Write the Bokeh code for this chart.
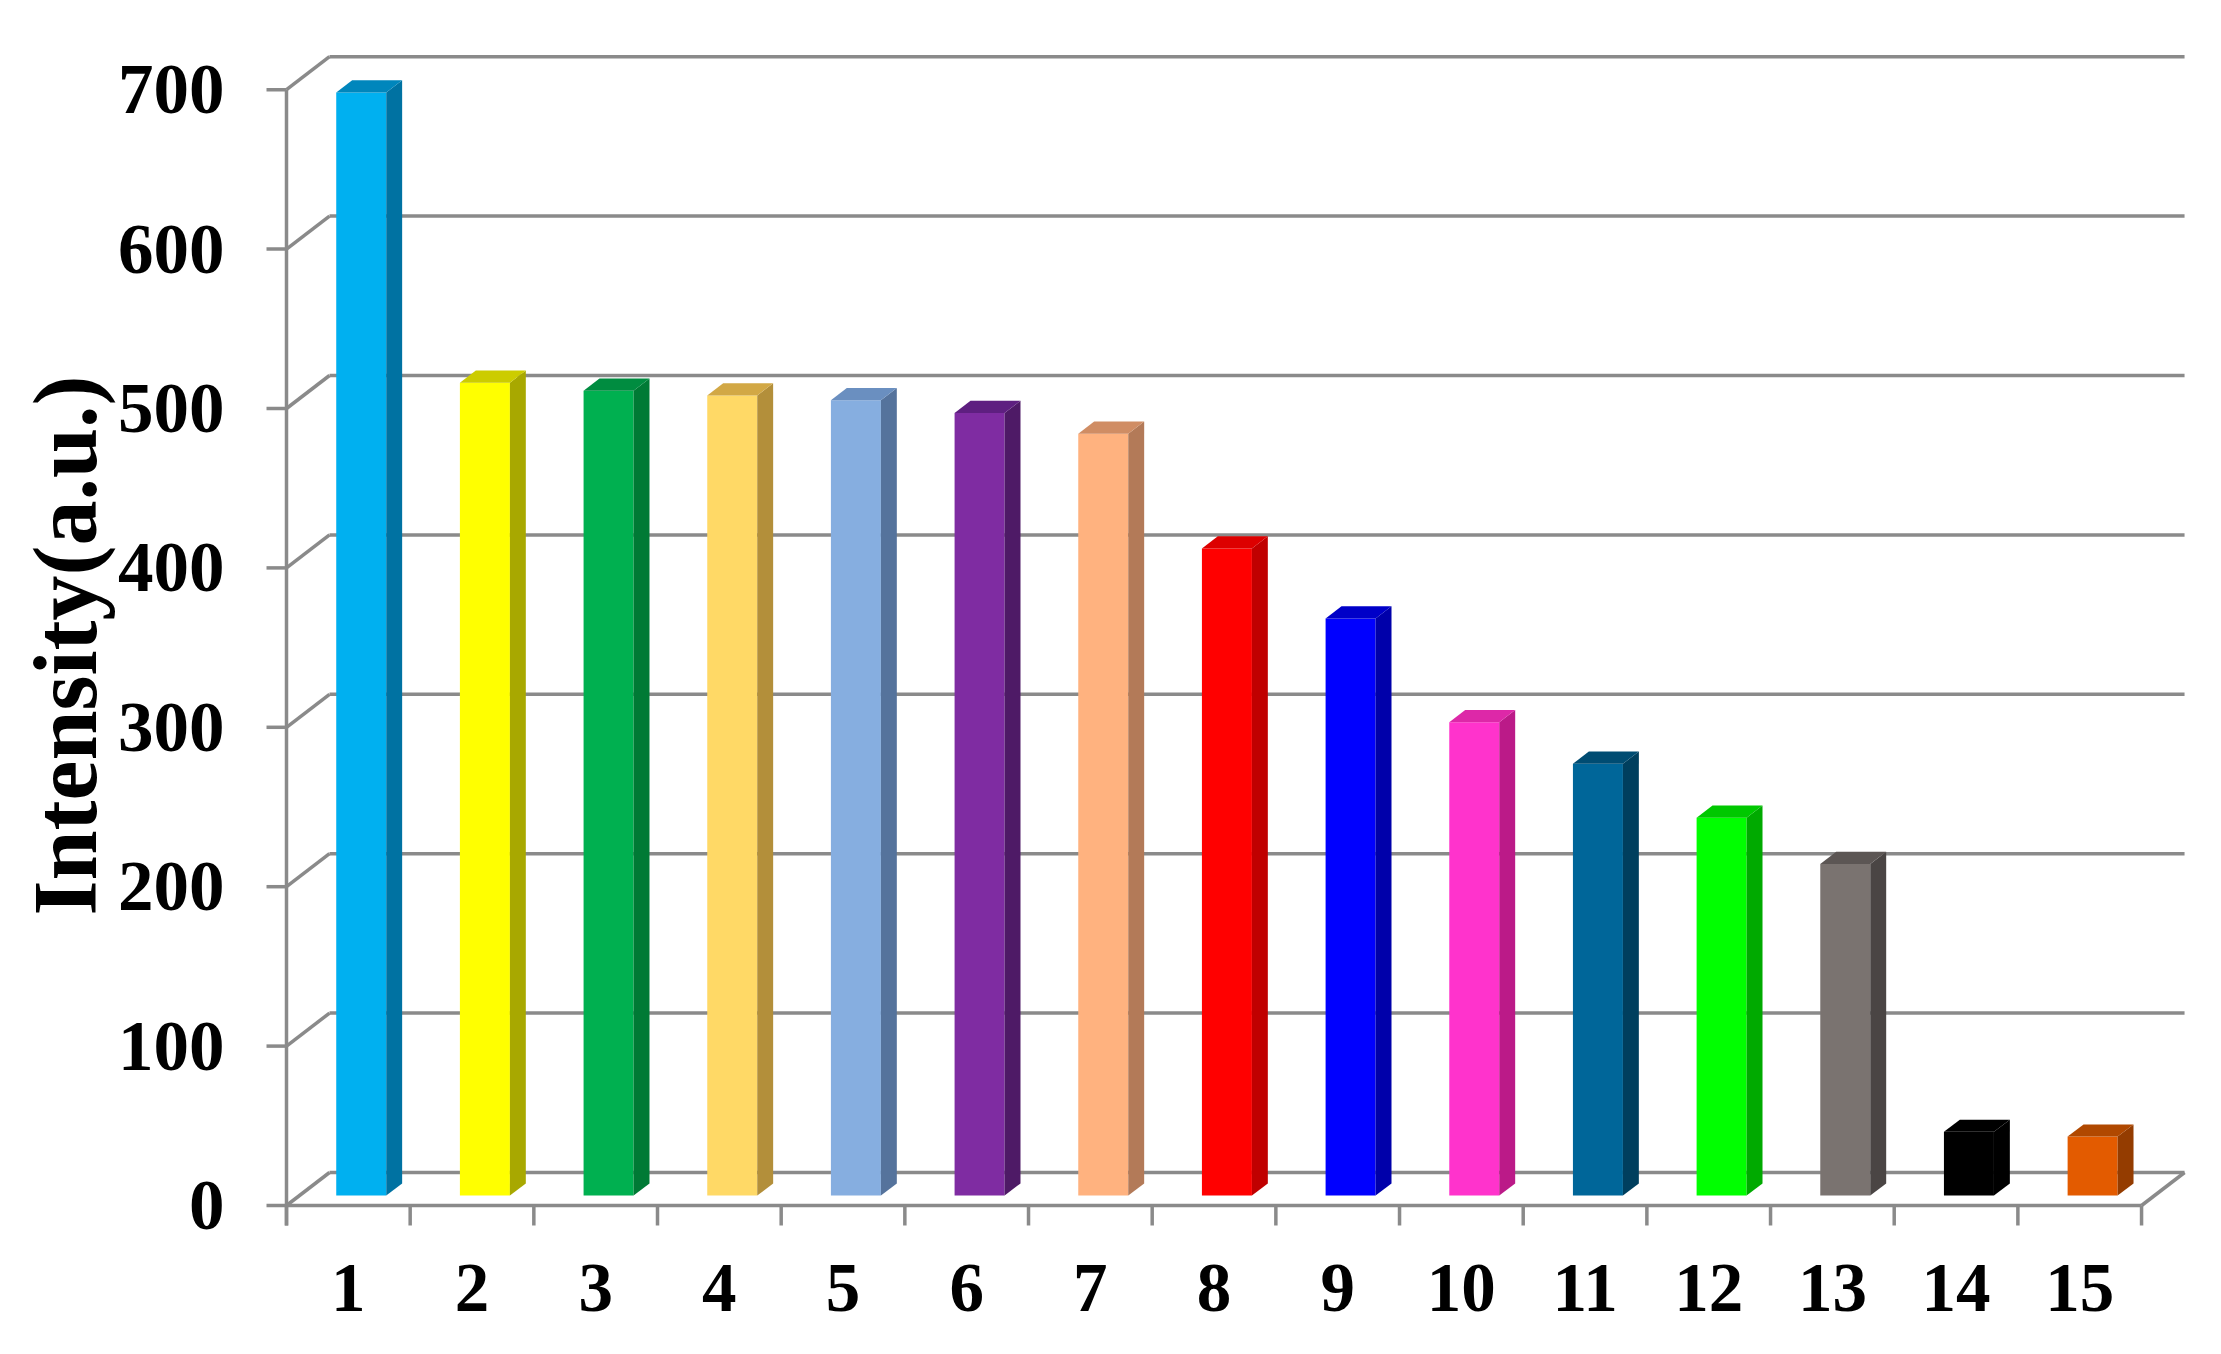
import math
from bokeh.plotting import figure
from bokeh.models import Range1d
from bokeh.core.properties import value
from bokeh.embed import file_html
from bokeh.resources import INLINE

# ---------------- data ----------------
categories = [str(i) for i in range(1, 16)]
intensity = [692, 510, 505, 502, 499, 491, 478, 406, 362, 297, 271, 237, 208, 40, 37]
y_ticks = [0, 100, 200, 300, 400, 500, 600, 700]
y_tick_labels = [str(t) for t in y_ticks]
y_title = "Intensity(a.u.)"

front_colors = ["#00B0F0", "#FFFF00", "#00B050", "#FFD966", "#86AEE0", "#7F2CA2", "#FFB27F", "#FF0000",
                "#0000FF", "#FF33CC", "#006699", "#00FF00", "#7A7370", "#000000", "#E35B00"]
side_colors = ["#0072A2", "#A8A800", "#007A35", "#B38F3A", "#55739C", "#4E1A66", "#B37A58", "#C00000",
               "#0000AA", "#BB1A88", "#003F5E", "#00AA00", "#4A4544", "#000000", "#943C00"]
top_colors = ["#0086BC", "#CCCC00", "#008C40", "#D2A845", "#6A8FC0", "#5E1F80", "#D08D64", "#DD0000",
              "#0000C8", "#DD28A8", "#004C72", "#00C800", "#5C5654", "#000000", "#B04800"]

# ---------------- layout constants (screenshot pixels) ----------------
W, H = 2205, 1338
FIG_ORIGIN = 0        # screenshot position of the figure's top-left corner
AXIS_X = 286          # x of front value axis
ZERO_Y = 1205         # y of front zero line
SLOT_PX = 123.67      # width of one category slot
PX_PER_UNIT = 1.594   # pixels per intensity unit
DEPTH_DX_PX, DEPTH_DY_PX = 43, 33
BAR_W_PX = 50
BAR_FRONT = 0.30      # depth fraction where bar front sits
BAR_DEPTH = 0.37      # bar depth as fraction of full depth
GRID_COLOR = "#8A8A8A"
FONT = "Liberation Serif"


def ux(px):
    return px / SLOT_PX


def uy(px):
    return px / PX_PER_UNIT


x_start = ux(FIG_ORIGIN - AXIS_X)
x_end = ux(FIG_ORIGIN + W - AXIS_X)
y_end = uy(ZERO_Y - FIG_ORIGIN)
y_start = uy(ZERO_Y - FIG_ORIGIN - H)

ddx, ddy = ux(DEPTH_DX_PX), uy(DEPTH_DY_PX)
n = len(categories)
ymax = y_ticks[-1]

p = figure(width=W, height=H, x_range=Range1d(x_start, x_end), y_range=Range1d(y_start, y_end),
           output_backend="svg", toolbar_location=None, min_border=0,
           x_axis_location=None, y_axis_location=None)
p.outline_line_color = None
p.grid.visible = False
p.background_fill_color = "white"
p.border_fill_color = "white"

LW = 3.5
# back wall gridlines
p.segment(x0=[ddx] * len(y_ticks), y0=[t + ddy for t in y_ticks],
          x1=[n + ddx] * len(y_ticks), y1=[t + ddy for t in y_ticks],
          line_color=GRID_COLOR, line_width=LW)
# left wall diagonals
p.segment(x0=[0] * len(y_ticks), y0=y_ticks, x1=[ddx] * len(y_ticks), y1=[t + ddy for t in y_ticks],
          line_color=GRID_COLOR, line_width=LW)
# floor front and right edges
p.segment(x0=[0, n], y0=[0, 0], x1=[n, n + ddx], y1=[0, ddy], line_color=GRID_COLOR, line_width=LW)
# front value axis and ticks
tick_len_x = ux(20)
tick_len_y = uy(20)
p.segment(x0=[0], y0=[ymax], x1=[0], y1=[-tick_len_y], line_color=GRID_COLOR, line_width=LW)
p.segment(x0=[-tick_len_x] * len(y_ticks), y0=y_ticks, x1=[0] * len(y_ticks), y1=y_ticks,
          line_color=GRID_COLOR, line_width=LW)
# category ticks
edges = list(range(0, n + 1))
p.segment(x0=edges, y0=[0] * len(edges), x1=edges, y1=[-tick_len_y] * len(edges),
          line_color=GRID_COLOR, line_width=LW)

# bars
bw = ux(BAR_W_PX)
centers = [i + 0.5 for i in range(n)]
fx, fy = BAR_FRONT * ddx, BAR_FRONT * ddy
bx, by = BAR_DEPTH * ddx, BAR_DEPTH * ddy
left = [c - bw / 2 + fx for c in centers]
right = [c + bw / 2 + fx for c in centers]
bottom = [fy] * n
top = [v + fy for v in intensity]

p.quad(left=left, right=right, bottom=bottom, top=top, fill_color=front_colors, line_color=None)
side_xs = [[r, r + bx, r + bx, r] for r in right]
side_ys = [[b, b + by, t + by, t] for b, t in zip(bottom, top)]
p.patches(xs=side_xs, ys=side_ys, fill_color=side_colors, line_color=None)
top_xs = [[l, r, r + bx, l + bx] for l, r in zip(left, right)]
top_ys = [[t, t, t + by, t + by] for t in top]
p.patches(xs=top_xs, ys=top_ys, fill_color=top_colors, line_color=None)

# value tick labels
p.text(x=[ux(224 - AXIS_X)] * len(y_ticks), y=y_ticks, text=y_tick_labels,
       text_font=value(FONT), text_font_style="bold", text_font_size="71px",
       text_align="right", text_baseline="middle", text_color="black")
# category labels
p.text(x=centers, y=[-uy(1287 - ZERO_Y)] * n, text=categories,
       text_font=value(FONT), text_font_style="bold", text_font_size="69px",
       text_align="center", text_baseline="middle", text_color="black")
# axis title
p.text(x=[ux(65 - AXIS_X)], y=[uy(ZERO_Y - 645)], text=[y_title], angle=math.pi / 2,
       text_font=value(FONT), text_font_style="bold", text_font_size="90px",
       text_align="center", text_baseline="middle", text_color="black")

open("out.html", "w").write(file_html(p, INLINE))
